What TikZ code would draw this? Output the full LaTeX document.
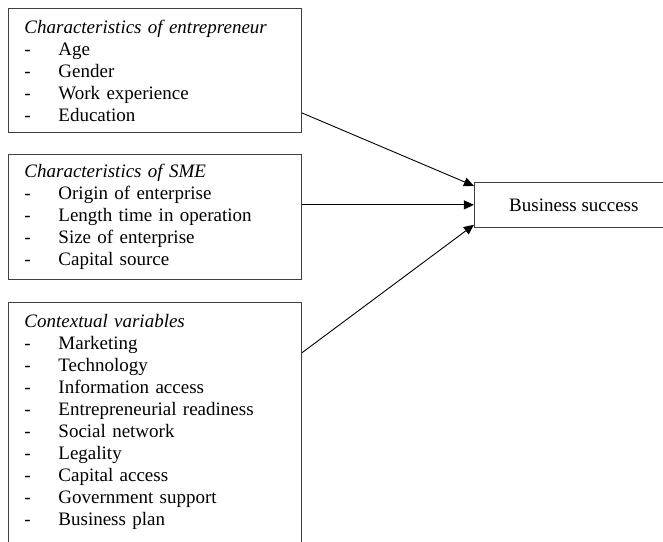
\documentclass[tikz,border=0pt]{standalone}
\usepackage{fontspec}
\setmainfont{Liberation Serif}
\usetikzlibrary{positioning}
\usetikzlibrary{arrows.meta}

\newcommand{\listline}[1]{\makebox[34pt][l]{-}#1}

\begin{document}
\begin{tikzpicture}[
        x=1pt, y=-1pt,
        node distance= 21pt and 172pt,
        box/.style={draw=black!75, line width=0.9pt, rectangle, align=left, text width=261pt,
            inner xsep=16pt, inner ysep=9pt, font=\fontsize{19}{22}\selectfont},
        goal/.style={draw=black!75, line width=0.9pt, rectangle, minimum width=199pt, minimum height=45pt,
            font=\fontsize{19}{22}\selectfont},
        arrow/.style={line width=0.9pt, -{Triangle[length=10pt, width=9pt]}},
    ]
        \useasboundingbox (0,0) rectangle (663,541);

        \node[box, anchor=north west, minimum height=124pt] (entre) at (8,8)
            {\textit{Characteristics of entrepreneur}\\
             \listline{Age}\\
             \listline{Gender}\\
             \listline{Work experience}\\
             \listline{Education}};
        \node[box, below = of entre, minimum height=125pt] (sme)
            {\textit{Characteristics of SME}\\
             \listline{Origin of enterprise}\\
             \listline{Length time in operation}\\
             \listline{Size of enterprise}\\
             \listline{Capital source}};
        \node[box, below = 22pt of sme.south, anchor=north, inner ysep=12pt] (context)
            {\textit{Contextual variables}\\
             \listline{Marketing}\\
             \listline{Technology}\\
             \listline{Information access}\\
             \listline{Entrepreneurial readiness}\\
             \listline{Social network}\\
             \listline{Legality}\\
             \listline{Capital access}\\
             \listline{Government support}\\
             \listline{Business plan}\\
             \mbox{}};
        \node[goal, right = of sme.east, anchor=west, yshift=12pt] (success) {Business success};

        \draw[arrow] ([yshift=20pt]entre.south east) -- ([yshift=-4pt]success.north west);
        \draw[arrow] (sme.east |- success.west) -- (success.west);
        \draw[arrow] ([yshift=-51pt]context.north east) -- ([yshift=3pt]success.south west);
    \end{tikzpicture}
\end{document}
